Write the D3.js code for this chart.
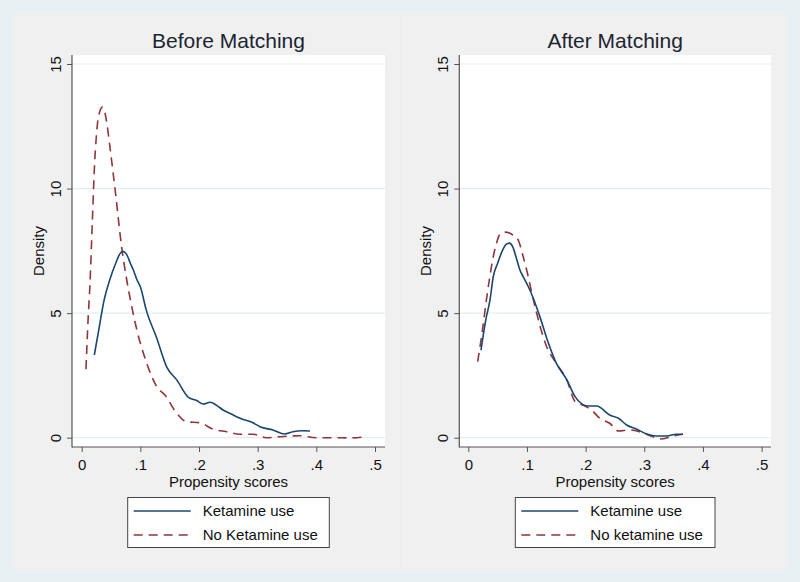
<!DOCTYPE html>
<html>
<head>
<meta charset="utf-8">
<script src="https://cdn.jsdelivr.net/npm/d3@7"></script>
<style>
  body { margin: 0; background: #e9f0f3; }
  svg { display: block; font-family: "Liberation Sans", Arial, sans-serif; }
</style>
</head>
<body>
<svg id="chart" width="800" height="582"></svg>
<script>
// propensity score density estimates
const scoreTicks = [0, 0.1, 0.2, 0.3, 0.4, 0.5];
const densityTicks = [0, 5, 10, 15];
const seriesNames = ["Ketamine use", "No Ketamine use"];
const seriesNamesAfter = ["Ketamine use", "No ketamine use"];

const beforeUsers = [
    [0.0215, 3.32], [0.03, 4.45], [0.038, 5.5], [0.048, 6.35], [0.058, 7.0],
    [0.065, 7.38], [0.070, 7.48], [0.076, 7.38], [0.083, 7.0], [0.088, 6.73],
    [0.094, 6.35], [0.100, 6.06], [0.110, 5.13], [0.128, 3.99], [0.145, 2.83],
    [0.162, 2.32], [0.182, 1.62], [0.196, 1.49], [0.207, 1.35], [0.219, 1.42],
    [0.230, 1.30], [0.241, 1.11], [0.255, 0.95], [0.270, 0.78], [0.292, 0.60],
    [0.304, 0.44], [0.326, 0.31], [0.346, 0.15], [0.360, 0.24], [0.375, 0.28],
    [0.389, 0.27]
];
const beforeNonUsers = [
    [0.0073, 2.75], [0.011, 4.8], [0.014, 6.1], [0.018, 8.6], [0.022, 11.0],
    [0.0245, 11.95], [0.027, 12.63], [0.031, 13.1], [0.035, 13.27], [0.039, 13.1],
    [0.043, 12.6], [0.048, 11.69], [0.057, 9.95], [0.068, 7.67], [0.077, 6.3],
    [0.085, 5.3], [0.094, 4.33], [0.110, 3.05], [0.128, 2.05], [0.142, 1.71],
    [0.162, 0.98], [0.179, 0.64], [0.2015, 0.60], [0.224, 0.34], [0.247, 0.24],
    [0.270, 0.14], [0.292, 0.14], [0.315, 0.0], [0.338, 0.04], [0.372, 0.08],
    [0.400, 0.0], [0.430, 0.0], [0.457, -0.01], [0.485, 0.04]
];
const afterUsers = [
    [0.0216, 3.51], [0.030, 4.75], [0.037, 5.53], [0.0426, 6.47], [0.050, 7.0],
    [0.057, 7.45], [0.064, 7.75], [0.070, 7.81], [0.076, 7.65], [0.082, 7.2],
    [0.088, 6.73], [0.095, 6.4], [0.105, 5.93], [0.122, 4.86], [0.135, 3.9],
    [0.150, 2.99], [0.168, 2.32], [0.182, 1.65], [0.204, 1.27], [0.219, 1.27],
    [0.241, 0.91], [0.256, 0.78], [0.270, 0.51], [0.287, 0.34], [0.304, 0.15],
    [0.321, 0.07], [0.338, 0.07], [0.355, 0.14], [0.366, 0.14]
];
const afterNonUsers = [
    [0.016, 3.05], [0.024, 4.3], [0.0313, 5.6], [0.0358, 6.33], [0.0426, 7.27],
    [0.048, 7.8], [0.054, 8.17], [0.062, 8.25], [0.071, 8.21], [0.078, 8.1],
    [0.085, 7.94], [0.092, 7.4], [0.0995, 6.73], [0.111, 5.53], [0.1336, 3.65],
    [0.150, 2.99], [0.168, 2.32], [0.182, 1.45], [0.199, 1.27], [0.210, 1.11],
    [0.224, 0.78], [0.241, 0.58], [0.256, 0.27], [0.275, 0.31], [0.292, 0.24],
    [0.310, 0.08], [0.330, -0.05], [0.349, 0.07], [0.366, 0.14]
];

const blue = "#1a476f";
const red = "#90353b";

let svg = d3.select("#chart");

// combined graph background
svg.append("rect").attr("width", 800).attr("height", 582).attr("fill", "#e9f0f3");
svg.append("rect").attr("x", 13).attr("y", 13).attr("width", 774).attr("height", 557)
    .attr("fill", "#f0f0f0");
svg.append("line").attr("x1", 400.5).attr("x2", 400.5).attr("y1", 13).attr("y2", 570)
    .attr("stroke", "#e8eef1");

function fmt(d) {
    return d === 0 ? "0" : String(d).replace(/^0/, "");
}

function panel(opts)
{
    let g = svg.append("g");
    let left = opts.left, right = opts.right, top = 55, bottom = 447;

    let x = d3.scaleLinear().domain([0, 0.5]).range([opts.x0, opts.x0 + 293.3]);
    let y = d3.scaleLinear().domain([0, 15]).range([437.7, 64]);

    g.append("rect")
        .attr("x", left).attr("y", top)
        .attr("width", right - left).attr("height", bottom - top)
        .attr("fill", "#fff");

    // gridlines
    g.selectAll(".grid")
        .data(densityTicks)
        .enter().append("line")
        .attr("x1", left).attr("x2", right)
        .attr("y1", d => y(d)).attr("y2", d => y(d))
        .attr("stroke", "#e4edf1").attr("stroke-width", 1.2);

    let line = d3.line()
        .curve(d3.curveMonotoneX)
        .x(d => x(d[0]))
        .y(d => y(d[1]));

    g.append("path").datum(opts.nonUsers)
        .attr("d", line).attr("fill", "none")
        .attr("stroke", red).attr("stroke-width", 1.6)
        .attr("stroke-dasharray", "9,6");
    g.append("path").datum(opts.users)
        .attr("d", line).attr("fill", "none")
        .attr("stroke", blue).attr("stroke-width", 1.6);

    // Y axis
    let ya = g.append("g")
        .attr("transform", "translate(" + left + ",0)")
        .call(d3.axisLeft(y).tickValues(densityTicks).tickSize(5).tickPadding(5).tickFormat(fmt));
    ya.select(".domain").remove();
    ya.selectAll(".tick line").attr("stroke", "#555");
    ya.selectAll(".tick text")
        .attr("transform", "rotate(-90)")
        .attr("x", 0).attr("y", -11).attr("dy", 0)
        .attr("text-anchor", "middle")
        .attr("font-size", 15).attr("font-family", "Liberation Sans, Arial, sans-serif")
        .attr("fill", "#111");

    // X axis
    let xa = g.append("g")
        .attr("transform", "translate(0," + bottom + ")")
        .call(d3.axisBottom(x).tickValues(scoreTicks).tickSize(5).tickPadding(5).tickFormat(fmt));
    xa.select(".domain").remove();
    xa.selectAll(".tick line").attr("stroke", "#555");
    xa.selectAll(".tick text")
        .attr("y", 22.5).attr("dy", 0)
        .attr("font-size", 15).attr("font-family", "Liberation Sans, Arial, sans-serif")
        .attr("fill", "#111");

    g.append("line")
        .attr("x1", left).attr("x2", left).attr("y1", top).attr("y2", bottom + 0.5)
        .attr("stroke", "#555").attr("stroke-width", 1.2);
    g.append("line")
        .attr("x1", left).attr("x2", right).attr("y1", bottom).attr("y2", bottom)
        .attr("stroke", "#555").attr("stroke-width", 1.2);

    // titles
    g.append("text")
        .attr("x", (left + right) / 2).attr("y", 48)
        .attr("text-anchor", "middle").attr("font-size", 21).attr("fill", "#1c2430")
        .text(opts.title);
    g.append("text")
        .attr("x", (left + right) / 2).attr("y", 486.5)
        .attr("text-anchor", "middle").attr("font-size", 15).attr("fill", "#111")
        .text("Propensity scores");
    g.append("text")
        .attr("transform", "translate(" + (left - 28) + ",251) rotate(-90)")
        .attr("text-anchor", "middle").attr("font-size", 15).attr("fill", "#111")
        .text("Density");

    // legend
    let lg = g.append("g").attr("transform", "translate(" + opts.legendX + ",497.5)");
    lg.append("rect")
        .attr("width", opts.legendW).attr("height", 50)
        .attr("fill", "#fff").attr("stroke", "#444").attr("stroke-width", 1);
    let rows = [
        { name: opts.names[0], color: blue, dash: null },
        { name: opts.names[1], color: red, dash: "9,6" }
    ];
    rows.forEach(function (r, i) {
        let yy = 13.5 + i * 24;
        lg.append("line")
            .attr("x1", 6).attr("x2", 63).attr("y1", yy).attr("y2", yy)
            .attr("stroke", r.color).attr("stroke-width", 1.6)
            .attr("stroke-dasharray", r.dash);
        lg.append("text")
            .attr("x", 75).attr("y", yy + 5)
            .attr("font-size", 15).attr("fill", "#111")
            .text(r.name);
    });
}

panel({
    title: "Before Matching", left: 72, right: 385, x0: 81.7,
    users: beforeUsers, nonUsers: beforeNonUsers,
    names: seriesNames, legendX: 127.7, legendW: 201.6
});
panel({
    title: "After Matching", left: 459.3, right: 771, x0: 468.3,
    users: afterUsers, nonUsers: afterNonUsers,
    names: seriesNamesAfter, legendX: 515.3, legendW: 199.7
});
</script>
</body>
</html>
